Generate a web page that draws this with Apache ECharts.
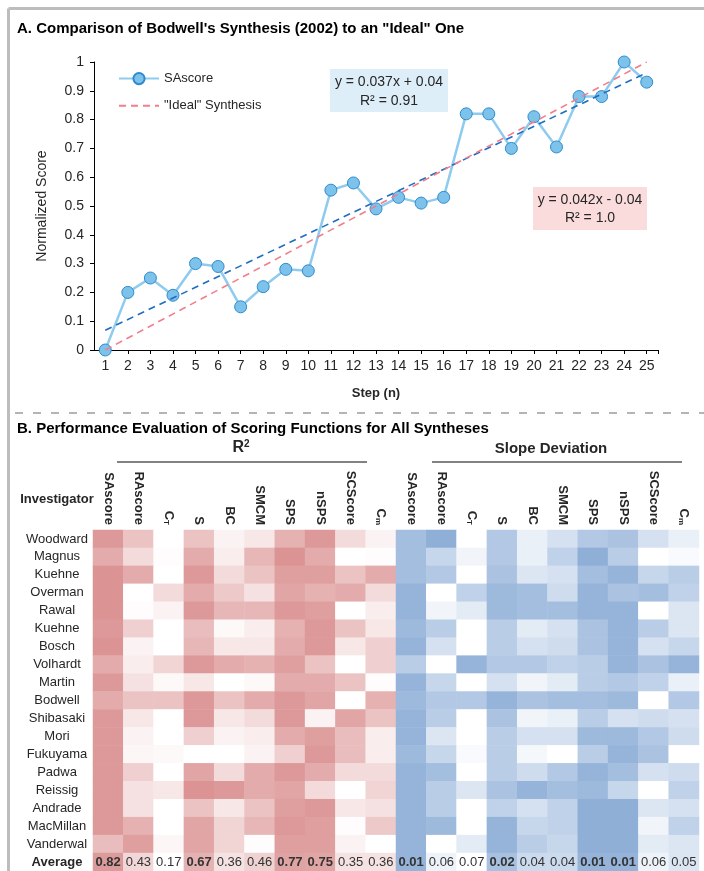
<!DOCTYPE html>
<html>
<head>
<meta charset="utf-8">
<script src="https://cdn.jsdelivr.net/npm/echarts@6/dist/echarts.min.js"></script>
<style>
html, body { margin: 0; padding: 0; background: #fff; }
#chart { width: 704px; height: 871px; }
</style>
</head>
<body>
<div id="chart"></div>
<script>
// ---- panel A : Bodwell synthesis vs ideal ----
var steps = [1, 2, 3, 4, 5, 6, 7, 8, 9, 10, 11, 12, 13, 14, 15, 16, 17, 18, 19, 20, 21, 22, 23, 24, 25];
var saScore = [0, 0.20, 0.25, 0.19, 0.30, 0.29, 0.15, 0.22, 0.28, 0.275, 0.555, 0.58, 0.49,
    0.53, 0.51, 0.53, 0.82, 0.82, 0.70, 0.81, 0.705, 0.88, 0.88, 1.0, 0.93];
var idealEnds = [[1, 0], [25, 1]];

// ---- panel B : heatmap ----
var investigators = ['Woodward', 'Magnus', 'Kuehne', 'Overman', 'Rawal', 'Kuehne', 'Bosch', 'Volhardt',
    'Martin', 'Bodwell', 'Shibasaki', 'Mori', 'Fukuyama', 'Padwa', 'Reissig', 'Andrade', 'MacMillan', 'Vanderwal'];
var scoreFns = ['SAscore', 'RAscore', 'C{sub|T}', 'S', 'BC', 'SMCM', 'SPS', 'nSPS', 'SCScore', 'C{sub|m}'];

var r2Values = [
    [0.78, 0.50, 0.10, 0.50, 0.18, 0.26, 0.62, 0.78, 0.34, 0.18],
    [0.66, 0.34, 0.12, 0.66, 0.22, 0.58, 0.82, 0.66, 0.10, 0.12],
    [0.82, 0.66, 0.10, 0.78, 0.34, 0.50, 0.74, 0.74, 0.50, 0.66],
    [0.82, 0.10, 0.34, 0.66, 0.46, 0.30, 0.70, 0.62, 0.66, 0.34],
    [0.82, 0.12, 0.18, 0.78, 0.58, 0.58, 0.78, 0.74, 0.10, 0.22],
    [0.78, 0.42, 0.10, 0.54, 0.14, 0.22, 0.62, 0.78, 0.50, 0.26],
    [0.82, 0.18, 0.10, 0.58, 0.26, 0.26, 0.66, 0.78, 0.26, 0.42],
    [0.66, 0.22, 0.38, 0.78, 0.66, 0.62, 0.74, 0.50, 0.10, 0.42],
    [0.78, 0.30, 0.14, 0.26, 0.10, 0.14, 0.66, 0.66, 0.50, 0.12],
    [0.66, 0.50, 0.50, 0.78, 0.50, 0.66, 0.78, 0.70, 0.10, 0.62],
    [0.78, 0.26, 0.10, 0.78, 0.26, 0.34, 0.78, 0.18, 0.70, 0.50],
    [0.78, 0.18, 0.10, 0.42, 0.18, 0.22, 0.66, 0.74, 0.54, 0.22],
    [0.78, 0.16, 0.14, 0.10, 0.10, 0.18, 0.42, 0.78, 0.54, 0.22],
    [0.78, 0.42, 0.10, 0.70, 0.34, 0.66, 0.78, 0.66, 0.34, 0.34],
    [0.78, 0.30, 0.26, 0.82, 0.78, 0.66, 0.70, 0.34, 0.10, 0.38],
    [0.78, 0.30, 0.10, 0.50, 0.26, 0.50, 0.74, 0.78, 0.26, 0.30],
    [0.78, 0.62, 0.10, 0.70, 0.38, 0.58, 0.78, 0.74, 0.12, 0.46],
    [0.54, 0.74, 0.16, 0.70, 0.38, 0.12, 0.74, 0.74, 0.18, 0.10]
];
var slopeDevValues = [
    [0.018, 0.006, 0.070, 0.026, 0.058, 0.046, 0.026, 0.022, 0.046, 0.058],
    [0.018, 0.038, 0.062, 0.026, 0.058, 0.034, 0.006, 0.030, 0.070, 0.066],
    [0.018, 0.026, 0.070, 0.022, 0.050, 0.046, 0.018, 0.010, 0.038, 0.030],
    [0.010, 0.070, 0.034, 0.014, 0.018, 0.042, 0.010, 0.022, 0.018, 0.034],
    [0.010, 0.062, 0.054, 0.014, 0.018, 0.018, 0.010, 0.010, 0.070, 0.050],
    [0.014, 0.030, 0.070, 0.030, 0.054, 0.046, 0.022, 0.010, 0.030, 0.050],
    [0.010, 0.046, 0.070, 0.030, 0.046, 0.042, 0.022, 0.010, 0.046, 0.038],
    [0.030, 0.070, 0.010, 0.026, 0.026, 0.034, 0.030, 0.010, 0.022, 0.010],
    [0.010, 0.038, 0.070, 0.046, 0.062, 0.054, 0.030, 0.026, 0.034, 0.058],
    [0.014, 0.026, 0.026, 0.010, 0.022, 0.018, 0.018, 0.014, 0.070, 0.026],
    [0.010, 0.030, 0.070, 0.022, 0.062, 0.058, 0.030, 0.046, 0.042, 0.046],
    [0.010, 0.050, 0.070, 0.030, 0.046, 0.046, 0.014, 0.014, 0.026, 0.042],
    [0.014, 0.038, 0.066, 0.030, 0.064, 0.070, 0.030, 0.010, 0.022, 0.070],
    [0.010, 0.018, 0.070, 0.030, 0.042, 0.026, 0.010, 0.018, 0.046, 0.042],
    [0.010, 0.030, 0.050, 0.022, 0.010, 0.018, 0.014, 0.038, 0.070, 0.034],
    [0.010, 0.030, 0.070, 0.034, 0.046, 0.034, 0.006, 0.006, 0.050, 0.046],
    [0.010, 0.014, 0.070, 0.010, 0.038, 0.034, 0.006, 0.006, 0.062, 0.034],
    [0.010, 0.070, 0.054, 0.010, 0.030, 0.038, 0.006, 0.006, 0.054, 0.050]
];
var r2Average = [0.82, 0.43, 0.17, 0.67, 0.36, 0.46, 0.77, 0.75, 0.35, 0.36];
var slopeDevAverage = [0.01, 0.06, 0.07, 0.02, 0.04, 0.04, 0.01, 0.01, 0.06, 0.05];

var FONT = 'Liberation Sans, Arial, sans-serif';

// least squares line for the SAscore trendline
function linearFit(xs, ys) {
    var n = xs.length, mx = 0, my = 0, sxy = 0, sxx = 0;
    for (var i = 0; i < n; i++) { mx += xs[i] / n; my += ys[i] / n; }
    for (var j = 0; j < n; j++) {
        sxy += (xs[j] - mx) * (ys[j] - my);
        sxx += (xs[j] - mx) * (xs[j] - mx);
    }
    var slope = sxy / sxx;
    return { slope: slope, intercept: my - slope * mx };
}

var fit = linearFit(steps, saScore);
var first = steps[0], last = steps[steps.length - 1];
var trendData = [[first, fit.intercept + fit.slope * first], [last, fit.intercept + fit.slope * last]];
var scoreData = steps.map(function (s, i) { return [s, saScore[i]]; });

// heatmap cells
var nFns = scoreFns.length;
var avgRow = investigators.length;
var r2Cells = [], sdCells = [];
investigators.forEach(function (name, row) {
    r2Values[row].forEach(function (v, col) { r2Cells.push([col, row, v]); });
    slopeDevValues[row].forEach(function (v, col) { sdCells.push([col + nFns, row, v]); });
});
var r2AvgCells = r2Average.map(function (v, col) {
    return { value: [col, avgRow, v], label: { fontWeight: v >= 0.6 ? 'bold' : 'normal' } };
});
var sdAvgCells = slopeDevAverage.map(function (v, col) {
    return { value: [col + nFns, avgRow, v], label: { fontWeight: v <= 0.02 ? 'bold' : 'normal' } };
});

var avgLabel = {
    show: true,
    fontFamily: FONT,
    fontSize: 13,
    color: '#333',
    formatter: function (p) { return p.value[2].toFixed(2); }
};

function txt(text, x, y, size, weight, align, extra) {
    var style = {
        text: text, x: x, y: y,
        fontFamily: FONT, fontSize: size, fontWeight: weight || 'normal',
        fill: '#262626', textAlign: align || 'left', textVerticalAlign: 'middle'
    };
    if (extra) { for (var k in extra) style[k] = extra[k]; }
    return { type: 'text', silent: true, style: style };
}

var chart = echarts.init(document.getElementById('chart'));

var option = {
    backgroundColor: '#fff',
    animation: false,
    grid: [
        { left: 94, right: 46, top: 62, bottom: 521 },
        { left: 93, right: 5, top: 530, bottom: 0 }
    ],
    xAxis: [{
        type: 'value', gridIndex: 0, min: 0.5, max: 25.5,
        name: 'Step (n)', nameLocation: 'middle', nameGap: 37,
        nameTextStyle: { fontFamily: FONT, fontSize: 13, fontWeight: 'bold', color: '#262626' },
        axisLine: { lineStyle: { color: '#000', width: 1 } },
        axisTick: { customValues: steps.concat([25.5]), length: 4, lineStyle: { color: '#000' } },
        axisLabel: { customValues: steps, fontFamily: FONT, fontSize: 14, color: '#262626', margin: 9 },
        splitLine: { show: false }
    }, {
        type: 'category', gridIndex: 1, position: 'top',
        data: scoreFns.concat(scoreFns),
        axisLine: { show: false }, axisTick: { show: false }, splitLine: { show: false },
        axisLabel: {
            interval: 0, rotate: 90, margin: 5,
            fontFamily: FONT, fontSize: 13, fontWeight: 'bold', color: '#262626',
            formatter: function (v, i) { return scoreFns[i % nFns]; },
            rich: { sub: { fontFamily: FONT, fontSize: 8, fontWeight: 'bold', color: '#262626', padding: [6, 0, 0, 0] } }
        }
    }],
    yAxis: [{
        type: 'value', gridIndex: 0, min: 0, max: 1, interval: 0.1,
        name: 'Normalized Score', nameLocation: 'middle', nameGap: 45,
        nameTextStyle: { fontFamily: FONT, fontSize: 14, color: '#262626' },
        axisLine: { show: true, lineStyle: { color: '#000', width: 1 } },
        axisTick: { show: true, length: 4, lineStyle: { color: '#000' } },
        axisLabel: { fontFamily: FONT, fontSize: 14, color: '#262626', margin: 10 },
        splitLine: { show: false }
    }, {
        type: 'category', gridIndex: 1, inverse: true,
        data: investigators.concat(['Average']),
        axisLine: { show: false }, axisTick: { show: false }, splitLine: { show: false },
        axisLabel: {
            interval: 0, align: 'center', margin: 36,
            fontFamily: FONT, fontSize: 13, color: '#262626',
            formatter: function (v, i) { return i === avgRow ? '{b|' + v + '}' : v; },
            rich: { b: { fontFamily: FONT, fontSize: 13, fontWeight: 'bold', color: '#262626' } }
        }
    }],
    legend: {
        left: 113, top: 67, orient: 'vertical', itemGap: 14,
        itemWidth: 40, itemHeight: 14,
        data: [
            { name: 'SAscore' },
            { name: '"Ideal" Synthesis', itemStyle: { color: 'rgba(0,0,0,0)', borderWidth: 0 } }
        ],
        textStyle: { fontFamily: FONT, fontSize: 13, color: '#262626' }
    },
    visualMap: [
        { show: false, type: 'continuous', seriesIndex: 3, dimension: 2, min: 0.1, max: 0.9,
          inRange: { color: ['#ffffff', '#d78787'] } },
        { show: false, type: 'continuous', seriesIndex: 4, dimension: 2, min: 0.004, max: 0.07,
          inRange: { color: ['#8badd6', '#ffffff'] } },
        { show: false, type: 'continuous', seriesIndex: 5, dimension: 2, min: 0.17, max: 0.82,
          inRange: { color: ['#ffffff', '#dc9b9b'] } },
        { show: false, type: 'continuous', seriesIndex: 6, dimension: 2, min: 0.01, max: 0.07,
          inRange: { color: ['#96b4da', '#ffffff'] } }
    ],
    series: [{
        name: 'SAscore', type: 'line', xAxisIndex: 0, yAxisIndex: 0, z: 2,
        data: scoreData,
        symbol: 'circle', symbolSize: 12,
        lineStyle: { color: '#8ecbef', width: 2.5 },
        itemStyle: { color: '#7dc2ea', borderColor: '#2f8ccc', borderWidth: 1 }
    }, {
        name: 'trend', type: 'line', xAxisIndex: 0, yAxisIndex: 0, z: 3, silent: true,
        data: trendData, symbol: 'none',
        lineStyle: { color: '#1f6dc2', width: 1.6, type: [7, 5] }
    }, {
        name: '"Ideal" Synthesis', type: 'line', xAxisIndex: 0, yAxisIndex: 0, z: 3, silent: true,
        data: idealEnds, symbol: 'none',
        itemStyle: { color: '#f27e8c' },
        lineStyle: { color: '#f27e8c', width: 1.6, type: [7, 5] }
    }, {
        type: 'heatmap', xAxisIndex: 1, yAxisIndex: 1, data: r2Cells, silent: true,
        emphasis: { disabled: true }
    }, {
        type: 'heatmap', xAxisIndex: 1, yAxisIndex: 1, data: sdCells, silent: true,
        emphasis: { disabled: true }
    }, {
        type: 'heatmap', xAxisIndex: 1, yAxisIndex: 1, data: r2AvgCells, silent: true,
        label: avgLabel, emphasis: { disabled: true }
    }, {
        type: 'heatmap', xAxisIndex: 1, yAxisIndex: 1, data: sdAvgCells, silent: true,
        label: avgLabel, emphasis: { disabled: true }
    }],
    graphic: [
        // frame and separator
        { type: 'line', silent: true, shape: { x1: 8.5, y1: 8.5, x2: 704, y2: 8.5 }, style: { stroke: '#bdbdbd', lineWidth: 3 } },
        { type: 'line', silent: true, shape: { x1: 8.5, y1: 8.5, x2: 8.5, y2: 871 }, style: { stroke: '#bdbdbd', lineWidth: 3 } },
        { type: 'line', silent: true, shape: { x1: 15, y1: 413, x2: 704, y2: 413 },
          style: { stroke: '#b4b4b4', lineWidth: 2, lineDash: [8, 10] } },
        // panel titles
        txt('A. Comparison of Bodwell\'s Synthesis (2002) to an "Ideal" One', 17, 29, 15, 'bold', 'left', { fill: '#000' }),
        txt('B. Performance Evaluation of Scoring Functions for All Syntheses', 17, 429, 15, 'bold', 'left', { fill: '#000' }),
        // fit annotations
        { type: 'rect', silent: true, shape: { x: 330, y: 69, width: 118, height: 43 }, style: { fill: '#ddeef9' } },
        txt('y = 0.037x + 0.04', 389, 82, 14, 'normal', 'center'),
        txt('R\u00b2 = 0.91', 389, 101, 14, 'normal', 'center'),
        { type: 'rect', silent: true, shape: { x: 533, y: 187, width: 114, height: 43 }, style: { fill: '#fbdcdc' } },
        txt('y = 0.042x - 0.04', 590, 200, 14, 'normal', 'center'),
        txt('R\u00b2 = 1.0', 590, 218, 14, 'normal', 'center'),
        // heatmap group headers
        txt('R{sup|2}', 241, 448, 16, 'bold', 'center', {
            rich: { sup: { fontFamily: FONT, fontSize: 10, fontWeight: 'bold', fill: '#262626', padding: [0, 0, 8, 0] } }
        }),
        { type: 'line', silent: true, shape: { x1: 117, y1: 462, x2: 367, y2: 462 }, style: { stroke: '#595959', lineWidth: 1.5 } },
        txt('Slope Deviation', 551, 449, 15, 'bold', 'center'),
        { type: 'line', silent: true, shape: { x1: 432, y1: 462, x2: 682, y2: 462 }, style: { stroke: '#595959', lineWidth: 1.5 } },
        txt('Investigator', 57, 499, 13, 'bold', 'center')
    ]
};

chart.setOption(option);
</script>
</body>
</html>
